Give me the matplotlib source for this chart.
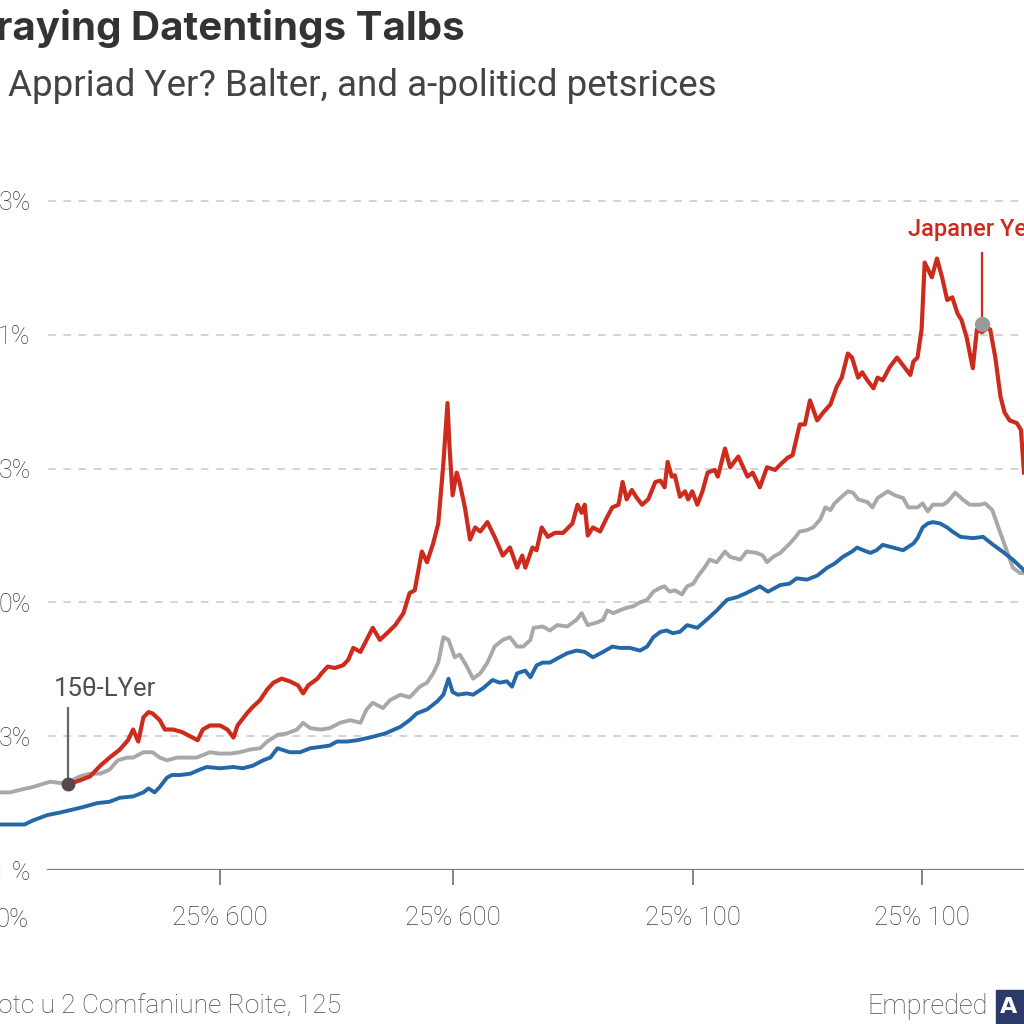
import matplotlib.pyplot as plt
from matplotlib.patches import Rectangle

# values: t runs 0-100 across the plot, y is in grid steps
red_t = [6.6, 7.8, 8.8, 9.8, 10.7, 11.7, 12.5, 13.0, 13.5, 14.0, 14.5, 14.9, 15.6, 16.1,
         16.9, 17.8, 18.3, 18.8, 19.3, 19.8, 20.5, 21.5, 22.2, 22.8, 23.2, 24.1, 24.7,
         25.4, 26.1, 26.7, 27.5, 28.3, 29.1, 29.6, 30.1, 31.0, 31.4, 32.0, 32.7, 33.5,
         34.0, 34.5, 35.2, 36.4, 37.1, 37.8, 38.6, 39.4, 40.0, 40.5, 41.2, 41.7, 42.3,
         42.8, 43.3, 43.7, 43.9, 44.2, 44.6, 44.9, 45.4, 45.9, 46.4, 46.9, 47.6, 48.3,
         49.1, 49.8, 50.5, 51.0, 51.3, 52.0, 52.4, 52.9, 53.5, 54.2, 55.0, 55.9, 56.4,
         56.8, 57.1, 57.4, 57.9, 58.6, 59.3, 59.8, 60.4, 60.8, 61.2, 61.7, 62.2, 62.7,
         63.3, 64.0, 64.5, 64.9, 65.2, 65.6, 65.9, 66.4, 66.9, 67.2, 67.6, 68.1, 68.6,
         69.1, 69.8, 70.1, 70.8, 71.3, 72.1, 73.0, 73.5, 74.2, 74.9, 75.7, 76.2, 76.9,
         77.4, 78.1, 78.6, 79.1, 79.8, 80.4, 81.1, 81.7, 82.2, 82.8, 83.2, 83.8, 84.2,
         84.7, 85.3, 85.7, 86.2, 86.9, 87.6, 88.2, 88.9, 89.2, 89.6, 90.0, 90.3, 91.0,
         91.5, 92.0, 92.5, 93.0, 93.5, 93.9, 94.4, 95.0, 95.4, 95.9, 96.4, 96.7, 97.2,
         97.7, 98.1, 98.6, 99.3, 99.7, 100.0]
red_v = [0.64, 0.67, 0.70, 0.78, 0.84, 0.90, 0.97, 1.05, 0.96, 1.14, 1.18, 1.17, 1.12, 1.05,
         1.05, 1.03, 1.01, 0.99, 0.97, 1.05, 1.08, 1.08, 1.05, 0.99, 1.08, 1.17, 1.22,
         1.27, 1.35, 1.40, 1.43, 1.41, 1.38, 1.32, 1.38, 1.43, 1.47, 1.52, 1.51, 1.53,
         1.57, 1.66, 1.63, 1.81, 1.72, 1.77, 1.83, 1.92, 2.07, 2.09, 2.38, 2.30, 2.44,
         2.59, 3.04, 3.49, 3.16, 2.80, 2.97, 2.89, 2.71, 2.47, 2.56, 2.53, 2.60, 2.49,
         2.35, 2.41, 2.26, 2.35, 2.26, 2.41, 2.39, 2.56, 2.49, 2.52, 2.52, 2.59, 2.73,
         2.67, 2.73, 2.50, 2.56, 2.53, 2.64, 2.71, 2.73, 2.90, 2.77, 2.84, 2.78, 2.73,
         2.77, 2.90, 2.91, 2.86, 3.05, 2.94, 2.95, 2.79, 2.83, 2.77, 2.83, 2.73, 2.83,
         2.97, 2.99, 2.94, 3.15, 3.01, 3.09, 2.94, 2.97, 2.86, 3.01, 2.99, 3.03, 3.08,
         3.10, 3.33, 3.33, 3.51, 3.36, 3.42, 3.48, 3.61, 3.68, 3.86, 3.83, 3.68, 3.72,
         3.66, 3.60, 3.68, 3.66, 3.76, 3.83, 3.77, 3.70, 3.80, 3.83, 4.04, 4.54, 4.43,
         4.57, 4.43, 4.26, 4.28, 4.16, 4.11, 3.98, 3.75, 4.04, 4.02, 4.05, 4.04, 3.83,
         3.54, 3.42, 3.36, 3.34, 3.29, 2.97]

gray_t = [0.0, 1.0, 2.0, 3.2, 4.9, 5.9, 6.8, 7.8, 8.8, 9.8, 10.7, 11.5, 12.4, 13.0, 14.0,
          14.9, 15.6, 16.3, 17.3, 18.3, 19.2, 20.5, 21.5, 22.5, 23.4, 24.4, 25.4, 26.1,
          27.1, 28.0, 29.0, 29.6, 30.3, 31.3, 32.2, 33.2, 34.2, 35.2, 35.8, 36.4, 37.4,
          38.1, 39.1, 40.0, 41.0, 41.7, 42.3, 42.8, 43.3, 43.8, 44.4, 44.9, 45.6, 46.2,
          46.9, 47.6, 48.3, 49.1, 49.8, 50.5, 51.1, 51.8, 52.1, 53.0, 53.7, 54.4, 55.4,
          56.3, 56.8, 57.4, 58.3, 58.9, 59.3, 59.9, 60.5, 61.2, 61.8, 62.5, 63.2, 63.8,
          64.5, 64.9, 65.4, 65.9, 66.6, 67.1, 67.7, 68.2, 68.8, 69.3, 70.0, 70.8, 71.3,
          72.3, 72.9, 73.9, 74.5, 74.9, 75.5, 76.2, 77.0, 77.6, 78.1, 78.8, 79.4, 80.1,
          80.6, 81.1, 81.5, 82.2, 82.8, 83.3, 83.8, 84.7, 85.2, 85.7, 86.7, 87.4, 88.2,
          88.7, 89.6, 90.1, 90.6, 91.1, 92.1, 92.5, 93.3, 94.0, 94.7, 95.7, 96.2, 96.9,
          97.5, 98.3, 98.9, 99.6, 100.0]
gray_v = [0.58, 0.58, 0.60, 0.62, 0.66, 0.65, 0.66, 0.70, 0.72, 0.72, 0.75, 0.82, 0.84, 0.84,
          0.88, 0.88, 0.84, 0.82, 0.84, 0.84, 0.84, 0.88, 0.87, 0.87, 0.88, 0.90, 0.91,
          0.96, 1.01, 1.02, 1.05, 1.10, 1.06, 1.05, 1.06, 1.10, 1.12, 1.10, 1.20, 1.25,
          1.21, 1.27, 1.31, 1.29, 1.37, 1.40, 1.47, 1.55, 1.74, 1.72, 1.59, 1.61, 1.52,
          1.43, 1.47, 1.55, 1.67, 1.72, 1.74, 1.67, 1.67, 1.72, 1.81, 1.82, 1.79, 1.83,
          1.82, 1.87, 1.92, 1.83, 1.85, 1.87, 1.94, 1.92, 1.94, 1.96, 1.97, 2.00, 2.02,
          2.08, 2.11, 2.12, 2.08, 2.09, 2.06, 2.12, 2.14, 2.20, 2.26, 2.32, 2.30, 2.38,
          2.34, 2.32, 2.38, 2.37, 2.35, 2.30, 2.34, 2.37, 2.43, 2.48, 2.53, 2.54, 2.56,
          2.62, 2.71, 2.69, 2.74, 2.79, 2.83, 2.82, 2.77, 2.75, 2.71, 2.78, 2.83, 2.80,
          2.78, 2.71, 2.71, 2.74, 2.68, 2.73, 2.73, 2.75, 2.82, 2.77, 2.73, 2.73, 2.74,
          2.69, 2.56, 2.39, 2.26, 2.22, 2.22]

blue_t = [0.0, 2.4, 3.2, 4.6, 5.9, 7.0, 8.1, 9.5, 10.7, 11.7, 13.0, 14.0, 14.5, 15.1, 15.6,
          16.3, 16.8, 17.6, 18.6, 19.5, 20.2, 21.5, 22.8, 23.7, 24.7, 25.7, 26.4, 27.1,
          28.3, 29.3, 30.3, 31.3, 32.2, 32.9, 33.9, 34.9, 36.1, 37.6, 39.1, 40.0, 40.7,
          41.7, 42.7, 43.3, 43.8, 44.2, 44.7, 45.6, 46.2, 47.2, 48.1, 48.8, 49.5, 50.0,
          50.5, 51.3, 51.8, 52.4, 53.0, 53.7, 54.4, 55.4, 56.3, 57.1, 57.9, 58.9, 59.8,
          60.5, 61.5, 62.5, 63.2, 63.8, 64.5, 65.1, 65.7, 66.4, 67.1, 68.1, 69.0, 70.0,
          71.0, 72.0, 72.9, 74.2, 75.0, 76.2, 77.1, 77.8, 78.8, 79.8, 80.8, 81.5, 82.3,
          83.2, 83.7, 84.3, 85.0, 85.6, 86.2, 87.2, 88.2, 89.2, 89.6, 90.1, 90.6, 91.1,
          91.8, 92.5, 93.0, 93.8, 95.0, 96.0, 97.0, 97.9, 98.9, 100.0]
blue_v = [0.34, 0.34, 0.37, 0.41, 0.43, 0.45, 0.47, 0.50, 0.51, 0.54, 0.55, 0.58, 0.61, 0.58,
          0.62, 0.69, 0.71, 0.71, 0.72, 0.75, 0.77, 0.76, 0.77, 0.76, 0.78, 0.82, 0.84,
          0.91, 0.88, 0.88, 0.91, 0.92, 0.93, 0.96, 0.96, 0.97, 0.99, 1.02, 1.07, 1.12,
          1.17, 1.20, 1.26, 1.31, 1.43, 1.33, 1.31, 1.32, 1.31, 1.36, 1.42, 1.40, 1.41,
          1.37, 1.47, 1.49, 1.44, 1.53, 1.55, 1.55, 1.58, 1.62, 1.64, 1.63, 1.59, 1.63,
          1.67, 1.66, 1.66, 1.64, 1.67, 1.74, 1.78, 1.79, 1.77, 1.78, 1.83, 1.81, 1.87,
          1.94, 2.02, 2.04, 2.07, 2.12, 2.08, 2.13, 2.14, 2.18, 2.17, 2.20, 2.26, 2.29,
          2.34, 2.38, 2.41, 2.39, 2.37, 2.39, 2.43, 2.41, 2.39, 2.44, 2.48, 2.56, 2.59,
          2.60, 2.59, 2.56, 2.53, 2.49, 2.48, 2.49, 2.43, 2.38, 2.32, 2.24]

y_levels = [0, 1, 2, 3, 4, 5]
y_labels = ['1 %', '3%', '0%', '3%', '1%', '3%']
x_ticks = [21.5, 44.2, 67.7, 90.0]
x_labels = ['25% 600', '25% 600', '25% 100', '25% 100']

RED = '#cc2b1d'
GRAY = '#a8a8a8'
BLUE = '#2468a8'
TXT = '#3e3e3e'
sans = ['Roboto', 'DejaVu Sans']

fig = plt.figure(figsize=(10.24, 10.24), dpi=100)
fig.patch.set_facecolor('white')
ax = fig.add_axes([0, 154 / 1024, 1, 720 / 1024])
ax.set_xlim(0, 100)
ax.set_ylim(0, 720 / 133.8)
for s in ax.spines.values():
    s.set_visible(False)

# grid + baseline
for lv in y_levels[1:]:
    ax.axhline(lv, xmin=48 / 1024, color='#c8c8c8', lw=1.1, ls=(0, (5, 5)), zorder=1)
ax.axhline(0, xmin=48 / 1024, color='#7a7a7a', lw=1.6, zorder=2)

ax.plot(gray_t, gray_v, color=GRAY, lw=2.8, zorder=3, clip_on=False)
ax.plot(blue_t, blue_v, color=BLUE, lw=2.8, zorder=4, clip_on=False)
ax.plot(red_t, red_v, color=RED, lw=3.0, zorder=5, clip_on=False)

ax.set_yticks(y_levels)
ax.set_yticklabels(y_labels, family=sans, fontsize=18, color=TXT, weight='light')
ax.tick_params(axis='y', length=0, pad=-22)
ax.set_xticks(x_ticks)
ax.set_xticklabels(x_labels, family=sans, fontsize=18.5, color=TXT, weight='light')
ax.tick_params(axis='x', direction='out', length=11, width=1.3, color='#7a7a7a', pad=15)

# left start marker
ax.vlines(red_t[0], red_v[0], red_v[0] + 0.58, color='#666666', lw=1.6, zorder=6)
ax.plot(red_t[0], red_v[0], 'o', ms=9, color='#5a4848', zorder=7, clip_on=False)
ax.text(red_t[0] - 1.3, red_v[0] + 0.62, '15θ-LYer', fontsize=18.5, color='#4f4f4f',
        family=sans, ha='left', va='bottom')

# right marker
k = 153
ax.vlines(red_t[k], red_v[k] + 0.1, red_v[k] + 0.6, color=RED, lw=1.6, zorder=6)
ax.plot(red_t[k], red_v[k] + 0.06, 'o', ms=10, color='#9a9a9a', zorder=7)
ax.text(88.7, red_v[k] + 0.68, 'Japaner Yen', fontsize=17, color=RED,
        family=sans, weight='medium', ha='left', va='bottom', clip_on=False)

# titles
fig.text(-0.004, 1 - 28 / 1024, 'raying Datentings Talbs', fontsize=29, weight='bold',
         color='#333333', family=['Inter', 'DejaVu Sans'], ha='left', va='center')
fig.text(0.008, 1 - 86 / 1024, 'Appriad Yer? Balter, and a-politicd petsrices', fontsize=26.5,
         color='#444444', family=sans, ha='left', va='center')

# left stray x label and footer
fig.text(29 / 1024, 1 - 920 / 1024, '0%', fontsize=18.5, color=TXT, family=sans,
         weight='light', ha='right', va='center')
fig.text(-0.002, 1 - 1007 / 1024, 'otc u 2 Comfaniune Roite, 125', fontsize=19, color='#4a4a4a',
         family=sans, weight='light', ha='left', va='center')
fig.text(988 / 1024, 1 - 1007 / 1024, 'Empreded', fontsize=19.5, color='#4a4a4a', family=sans,
         weight='light', ha='right', va='center')
fig.patches.append(Rectangle((996 / 1024, 0), 0.05, 34 / 1024, transform=fig.transFigure,
                             color='#2b3a68', figure=fig))
fig.text(1000 / 1024, 1 - 1007 / 1024, 'A', fontsize=16, weight='bold', color='white',
         ha='left', va='center')

fig.savefig('out.png', dpi=100)
